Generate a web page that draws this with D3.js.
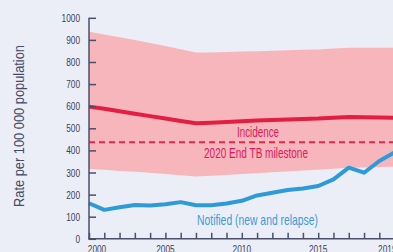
<!DOCTYPE html>
<html>
<head>
<meta charset="utf-8">
<script src="https://cdn.jsdelivr.net/npm/d3@7"></script>
<style>
  body { margin: 0; background: #eceef7; }
  svg { display: block; }
  text { font-family: "Liberation Sans", Arial, sans-serif; }
</style>
</head>
<body>
<script>

// data (rate per 100 000 population)
var years = [2000, 2001, 2002, 2003, 2004, 2005, 2006, 2007, 2008, 2009, 2010,
             2011, 2012, 2013, 2014, 2015, 2016, 2017, 2018, 2019, 2020];
var incidence = [598, 588, 577, 566, 555, 544, 533, 523, 525, 528, 532,
                 535, 538, 540, 542, 544, 548, 551, 550, 549, 548];
var incidenceHigh = [937, 925, 912, 899, 886, 872, 858, 843, 843, 845, 847,
                     849, 851, 853, 855, 857, 861, 864, 865, 865, 865];
var incidenceLow = [316, 312, 307, 303, 299, 293, 287, 282, 285, 289, 293,
                    297, 301, 305, 309, 313, 317, 321, 323, 325, 326];
var notified = [161, 131, 143, 153, 151, 156, 166, 152, 152, 160, 172,
                196, 208, 221, 228, 239, 269, 322, 299, 352, 391];
var milestone = 437;
var yTicks = [0, 100, 200, 300, 400, 500, 600, 700, 800, 900, 1000];
var xTicks = d3.range(2000, 2021);
var xLabels = [2000, 2005, 2010, 2015, 2019];

var width = 393, height = 252;

var svg = d3.select("body")
            .append("svg")
            .attr("width", width)
            .attr("height", height);

var x = d3.scaleLinear().domain([2000, 2020]).range([89, 394.6]);
var y = d3.scaleLinear().domain([0, 1000]).range([238.8, 17.8]);

var rows = years.map(function(yr, i) {
  return {year: yr, inc: incidence[i], lo: incidenceLow[i], hi: incidenceHigh[i], notif: notified[i]};
});

// squeeze text horizontally to look like a condensed face
var condense = function(sel, factor) {
  sel.each(function() {
    var w = this.getComputedTextLength();
    d3.select(this).attr("textLength", w * factor).attr("lengthAdjust", "spacingAndGlyphs");
  });
};

// uncertainty band
svg.append("path")
   .datum(rows)
   .attr("fill", "#f7b6bc")
   .attr("d", d3.area()
                .x(function(d) { return x(d.year); })
                .y0(function(d) { return y(d.lo); })
                .y1(function(d) { return y(d.hi); }));

// milestone
svg.append("line")
   .attr("x1", x(2000)).attr("x2", width)
   .attr("y1", y(milestone)).attr("y2", y(milestone))
   .attr("stroke", "#e8254b")
   .attr("stroke-width", 2)
   .attr("stroke-dasharray", "6,4");

// incidence line
svg.append("path")
   .datum(rows)
   .attr("fill", "none")
   .attr("stroke", "#e31e41")
   .attr("stroke-width", 4)
   .attr("d", d3.line()
                .x(function(d) { return x(d.year); })
                .y(function(d) { return y(d.inc); }));

// notified line
svg.append("path")
   .datum(rows)
   .attr("fill", "none")
   .attr("stroke", "#2d9bd7")
   .attr("stroke-width", 4)
   .attr("stroke-linejoin", "round")
   .attr("d", d3.line()
                .x(function(d) { return x(d.year); })
                .y(function(d) { return y(d.notif); }));

// axes
var axisColor = "#4a4f6b";

var yAxis = svg.append("g")
               .attr("transform", "translate(" + x(2000) + ",0)")
               .call(d3.axisRight(y).tickValues(yTicks).tickSize(7).tickFormat(""));
var xAxis = svg.append("g")
               .attr("transform", "translate(0," + y(0) + ")")
               .call(d3.axisTop(x).tickValues(xTicks).tickSize(6).tickFormat(""));

[yAxis, xAxis].forEach(function(g) {
  g.select(".domain").attr("stroke", axisColor).attr("stroke-width", 1.5);
  g.selectAll(".tick line").attr("stroke", axisColor).attr("stroke-width", 1.5);
});
yAxis.select(".domain").attr("d", "M0," + y(1000) + "V" + (y(0) + 0.7));
xAxis.select(".domain").attr("d", "M" + (x(2000) - 0.7) + ",0H" + width);

// tick labels
svg.selectAll(".ylab")
   .data(yTicks)
   .enter()
   .append("text")
   .attr("class", "ylab")
   .attr("x", 80)
   .attr("y", function(d) { return y(d) + 4; })
   .attr("text-anchor", "end")
   .attr("font-size", 11.5)
   .attr("fill", "#3a3f5c")
   .text(function(d) { return d; })
   .call(condense, 0.72);

svg.selectAll(".xlab")
   .data(xLabels)
   .enter()
   .append("text")
   .attr("class", "xlab")
   .attr("x", function(d) { return (d == 2000 || d == 2019) ? x(d) + 8 : x(d); })
   .attr("y", 252.5)
   .attr("text-anchor", "middle")
   .attr("font-size", 11.5)
   .attr("fill", "#3a3f5c")
   .text(function(d) { return d; })
   .call(condense, 0.72);

// y title
svg.append("text")
   .attr("transform", "translate(24,126) rotate(-90)")
   .attr("text-anchor", "middle")
   .attr("font-size", 14)
   .attr("fill", "#454b68")
   .text("Rate per 100 000 population")
   .attr("textLength", 162)
   .attr("lengthAdjust", "spacingAndGlyphs");

// annotations
svg.append("text")
   .attr("x", 258).attr("y", 137)
   .attr("text-anchor", "middle")
   .attr("font-size", 14.5)
   .attr("fill", "#e0175b")
   .text("Incidence")
   .attr("textLength", 42)
   .attr("lengthAdjust", "spacingAndGlyphs");

svg.append("text")
   .attr("x", 256).attr("y", 158)
   .attr("text-anchor", "middle")
   .attr("font-size", 14.5)
   .attr("fill", "#e0175b")
   .text("2020 End TB milestone")
   .attr("textLength", 104)
   .attr("lengthAdjust", "spacingAndGlyphs");

svg.append("text")
   .attr("x", 257.5).attr("y", 225)
   .attr("text-anchor", "middle")
   .attr("font-size", 14.5)
   .attr("fill", "#3b9bd8")
   .text("Notified (new and relapse)")
   .attr("textLength", 121)
   .attr("lengthAdjust", "spacingAndGlyphs");

</script>
</body>
</html>
